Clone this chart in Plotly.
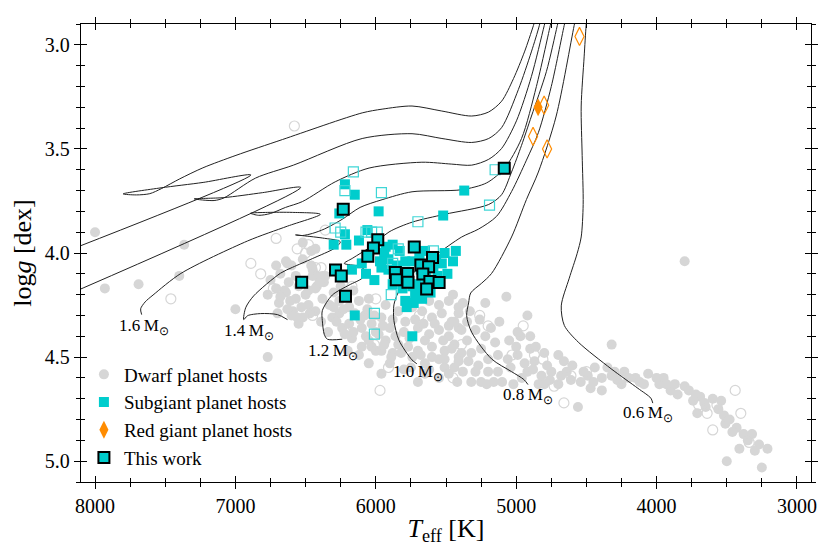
import plotly.graph_objects as go

# --- planet host stars: effective temperature [K] and log g [dex] ---
dwarf_teff = [
    8000, 7930, 7690, 7400, 7365, 7000, 6770, 6630, 6520, 6460,
    6420, 6430, 6520, 6460, 6450, 6380, 6370, 6420, 6480, 6650,
    6640, 6710, 6640, 6570, 6500, 6430, 6480, 6590, 6690, 6520,
    6430, 6380, 6400, 6360, 6450, 6570, 6620, 6710, 6600, 6770,
    6680, 6550, 6700,
    6260, 6190, 6120, 6050, 6260, 6190, 6100, 6030, 5960, 5980,
    5930, 6070, 6240, 6310, 5930, 5840, 5790, 5700, 5620, 5550,
    5480, 5410, 5460, 5530, 5600, 5670, 5740, 5550, 5480, 5410,
    5620, 5840, 5770, 5700, 5600, 5510, 5440, 5410, 5550, 5650,
    5740, 5510, 5440, 5880, 6030, 6170, 6340,
    5650, 5800, 5900, 6000, 6080, 6150, 6300, 6200, 6100, 5960,
    6120, 5800, 5900, 5650, 6300, 6250, 6160,
    5480, 5440, 5390, 5410, 5220, 5070, 4920, 4970, 5290, 5220,
    5150, 5250, 5320, 5390, 5460, 5510, 5410, 5340, 5270, 5200,
    5130, 5060, 4990, 4940, 4870, 5040, 5130, 5200, 5290, 5100,
    4920, 4820, 4750, 4700, 4660, 4680, 4610, 4540, 4490, 4440,
    4390, 4320, 4300, 4230, 4390, 4560, 4840, 4800, 5210, 4320,
    4090, 3980, 3900, 3800, 3850, 3720, 3600, 3710, 3520, 3510,
    3430, 3380, 3320, 3410, 3270, 3210, 3500, 3250, 3800, 3540,
    3690, 3650,
    5350, 5000, 4900, 4780, 4150, 4060, 3950, 4470, 4250,
    6280, 6220, 6160, 6110, 6060, 6010, 5950, 5880, 5860, 5940,
    6050, 6000, 5890, 5820, 5760, 6230, 6330, 6200, 6050, 5960,
    5720, 5660, 5580, 5520, 5600, 5680, 5750, 5700, 5620, 5550,
    5480, 5420, 5380, 5350, 5330, 5380, 5450,
    5260, 5180, 5120, 5050, 4990, 4900, 4860, 4800, 4880, 4960,
    5020, 5160, 5250, 5320, 4760, 4700, 4640, 4600, 4520, 4450,
    4350, 4280, 4200, 4120, 4000, 3930, 3870, 3770, 3740, 3660,
    3560, 3480, 3460, 3350, 3300,
    6750, 6680, 6600, 6550, 6610, 6530, 6470, 6390, 6630, 6560]
dwarf_logg = [
    3.90, 4.17, 4.15, 4.11, 3.96, 4.27, 4.50, 4.05, 3.95, 3.99,
    4.11, 3.98, 4.03, 4.06, 4.11, 4.11, 4.14, 4.16, 4.18, 4.18,
    4.04, 4.17, 4.19, 4.22, 4.20, 4.17, 4.25, 4.28, 4.24, 4.31,
    4.28, 4.22, 4.14, 4.11, 4.08, 4.11, 4.14, 4.06, 4.30, 4.20,
    4.21, 4.34, 4.29,
    4.23, 4.26, 4.23, 4.22, 4.29, 4.34, 4.36, 4.34, 4.31, 4.39,
    4.42, 4.40, 4.36, 4.31, 4.25, 4.28, 4.33, 4.36, 4.39, 4.37,
    4.40, 4.36, 4.33, 4.29, 4.31, 4.28, 4.26, 4.25, 4.23, 4.26,
    4.23, 4.44, 4.45, 4.47, 4.45, 4.47, 4.44, 4.50, 4.51, 4.53,
    4.50, 4.55, 4.55, 4.48, 4.45, 4.41, 4.38,
    4.42, 4.38, 4.36, 4.38, 4.30, 4.29, 4.26, 4.19, 4.45, 4.47,
    4.49, 4.56, 4.53, 4.58, 4.19, 4.16, 4.18,
    4.35, 4.33, 4.37, 4.29, 4.24, 4.21, 4.30, 4.40, 4.37, 4.40,
    4.43, 4.46, 4.48, 4.48, 4.46, 4.51, 4.52, 4.52, 4.54, 4.51,
    4.49, 4.51, 4.49, 4.53, 4.52, 4.55, 4.57, 4.57, 4.57, 4.62,
    4.57, 4.59, 4.57, 4.49, 4.52, 4.59, 4.61, 4.62, 4.59, 4.55,
    4.60, 4.59, 4.57, 4.57, 4.66, 4.74, 4.63, 4.63, 4.63, 4.44,
    4.63, 4.63, 4.66, 4.64, 4.68, 4.68, 4.70, 4.77, 4.78, 4.82,
    4.84, 4.87, 4.87, 4.94, 4.92, 4.94, 5.00, 5.03, 4.04, 4.71,
    4.69, 4.74,
    4.42, 4.45, 4.46, 4.54, 4.60, 4.58, 4.60, 4.65, 4.63,
    4.33, 4.39, 4.38, 4.32, 4.27, 4.30, 4.35, 4.32, 4.40, 4.44,
    4.42, 4.47, 4.50, 4.48, 4.41, 4.27, 4.25, 4.47, 4.53, 4.58,
    4.32, 4.34, 4.34, 4.42, 4.50, 4.49, 4.55, 4.62, 4.56, 4.60,
    4.58, 4.62, 4.57, 4.33, 4.28, 4.24, 4.20,
    4.32, 4.36, 4.33, 4.42, 4.38, 4.40, 4.45, 4.48, 4.56, 4.60,
    4.63, 4.62, 4.62, 4.62, 4.61, 4.63, 4.57, 4.54, 4.57, 4.62,
    4.55, 4.61, 4.60, 4.62, 4.60, 4.63, 4.63, 4.66, 4.71, 4.72,
    4.75, 4.80, 4.86, 4.90, 4.95,
    4.13, 4.10, 4.06, 4.16, 4.23, 4.26, 4.29, 4.33, 4.27, 4.31]

dwarf_open_teff = [
    6580, 7460, 6890, 6820, 6730, 6560, 6360, 6430, 6480, 6390,
    5970, 5450, 5260, 5200, 5030, 4810, 4610, 4500, 4660, 4730,
    5390, 4250, 3440, 3400, 3600, 3340, 3640, 3700, 3570, 6710,
    6500, 6170, 6000, 6450, 5690, 5910, 6220, 4950, 4870, 6010]
dwarf_open_logg = [
    3.39, 4.22, 4.05, 4.10, 4.17, 3.98, 3.89, 4.07, 3.96, 4.07,
    4.66, 4.60, 4.30, 4.35, 4.49, 4.51, 4.59, 4.57, 4.72, 4.64,
    4.44, 4.60, 4.66, 4.77, 4.85, 4.91, 4.77, 4.73, 4.73, 3.93,
    4.00, 4.16, 4.22, 4.30, 4.30, 4.55, 4.38, 4.35, 4.49, 4.44]

sub_teff = [
    6220, 6150, 5980, 6260, 5520, 5370, 6220, 6300, 6120, 5930,
    5940, 5690, 5430, 5450, 5650, 6100, 6010, 6150, 5740, 5790,
    5730, 5960, 5970, 5790, 5740, 5690, 5690, 5720, 5910, 5850,
    5590, 5530, 5560, 5710, 5810, 5880, 5490, 5680, 5610, 5810,
    5910, 5830, 5570, 5510, 5640, 5740, 5670, 5780, 6070, 6170,
    6210, 5880, 6060]
sub_logg = [
    3.67, 3.72, 3.80, 3.81, 3.82, 3.70, 3.91, 3.96, 3.94, 3.97,
    4.00, 4.04, 3.99, 4.04, 3.99, 4.05, 4.13, 4.30, 4.40, 4.23,
    4.24, 4.07, 4.04, 4.04, 4.04, 4.01, 4.18, 4.20, 4.03, 4.06,
    4.07, 4.05, 4.11, 4.15, 4.17, 4.15, 4.10, 4.08, 4.19, 4.09,
    4.08, 3.99, 4.03, 4.00, 4.12, 4.16, 4.22, 4.26, 4.10, 4.08,
    3.96, 3.96, 3.89]

sub_open_teff = [6160, 6220, 5960, 6290, 6250, 6070, 6030, 5990, 5840,
                 5700, 5150, 5190, 5590, 5880, 6010, 5890, 5810, 6010]
sub_open_logg = [3.61, 3.70, 3.71, 3.88, 3.90, 3.90, 3.90, 3.90, 3.98,
                 3.85, 3.60, 3.77, 3.99, 4.05, 4.29, 4.20, 4.13, 4.39]

rg_teff = [4844]
rg_logg = [3.30]
rg_open_teff = [4549, 4801, 4880, 4780]
rg_open_logg = [2.96, 3.29, 3.44, 3.50]

this_teff = [6232, 5986, 6017, 6057, 5726, 5596, 5679, 5624, 5861, 5854, 5773,
             5771, 5665, 5615, 5549, 5638, 6528, 6287, 6246, 6216, 5085]
this_logg = [3.790, 3.936, 3.976, 4.016, 3.971, 4.022, 4.058, 4.066, 4.094, 4.129, 4.098,
             4.140, 4.101, 4.137, 4.142, 4.173, 4.140, 4.082, 4.110, 4.208, 3.593]

# --- evolutionary tracks ---
trk20_teff = [8300, 6890, 7230, 7530, 7800, 7705, 7610, 7528, 7397, 7232, 6996, 6665,
              6097, 5955, 5742, 5530, 5317, 5197, 5104, 5019, 4941, 4877, 4849]
trk20_logg = [4.017, 3.625, 3.661, 3.687, 3.716, 3.721, 3.715, 3.691, 3.644, 3.591, 3.531, 3.455,
              3.327, 3.309, 3.294, 3.318, 3.342, 3.323, 3.271, 3.162, 3.034, 2.907, 2.845]
trk18_teff = [8300, 6535, 6806, 7083, 7294, 7152, 7081, 6856, 6587, 6097, 5742, 5529,
              5317, 5196, 5104, 4984, 4892, 4835, 4814]
trk18_logg = [4.231, 3.685, 3.710, 3.734, 3.740, 3.748, 3.735, 3.640, 3.578, 3.450, 3.427, 3.450,
              3.469, 3.450, 3.398, 3.214, 3.034, 2.907, 2.845]
trk16_teff = [7668, 7675, 7643, 7587, 7388, 6913, 6629, 6395, 6594, 6771, 6892, 6835, 6749,
              6643, 6523, 6289, 6048, 5672, 5459, 5317, 5196, 5104, 4998, 4892, 4800, 4778]
trk16_logg = [4.296, 4.268, 4.235, 4.202, 4.098, 3.942, 3.871, 3.814, 3.805, 3.805, 3.809, 3.819, 3.810,
              3.781, 3.753, 3.658, 3.592, 3.564, 3.573, 3.578, 3.550, 3.498, 3.365, 3.153, 2.907, 2.845]
trk14_teff = [6629, 6700, 6820, 6913, 6941, 6927, 6870, 6679, 6594, 6452, 6289, 6253, 6381, 6572,
              6522, 6452, 6367, 6239, 6112, 5955, 5742, 5388, 5210, 5082, 4962, 4856, 4757, 4736]
trk14_logg = [4.320, 4.296, 4.291, 4.301, 4.320, 4.263, 4.206, 4.097, 4.069, 4.027, 3.975, 3.946, 3.928, 3.913,
              3.916, 3.906, 3.885, 3.838, 3.781, 3.744, 3.706, 3.696, 3.663, 3.592, 3.450, 3.200, 2.907, 2.845]
trk12_teff = [6239, 6345, 6367, 6381, 6381, 6310, 6190, 6097, 6069, 6119, 6225, 6168,
              6026, 5906, 5742, 5509, 5196, 5104, 5033, 4962, 4891, 4785, 4707, 4686]
trk12_logg = [4.414, 4.414, 4.391, 4.325, 4.277, 4.202, 4.154, 4.121, 4.088, 4.064, 4.050, 4.026,
              3.965, 3.899, 3.852, 3.814, 3.767, 3.720, 3.611, 3.483, 3.342, 3.129, 2.907, 2.845]
trk10_teff = [5708, 5743, 5835, 5871, 5871, 5842, 5793, 5693, 5580, 5388, 5268, 5140,
              5033, 4927, 4842, 4750, 4658, 4637]
trk10_logg = [4.532, 4.513, 4.419, 4.325, 4.249, 4.192, 4.145, 4.069, 4.013, 3.923, 3.885, 3.824,
              3.705, 3.554, 3.422, 3.200, 2.907, 2.845]
trk08_teff = [4916, 4945, 5033, 5175, 5317, 5353, 5339, 5324, 5246, 5175, 5033, 4927,
              4842, 4715, 4587, 4567]
trk08_logg = [4.632, 4.608, 4.570, 4.509, 4.381, 4.301, 4.240, 4.192, 4.145, 4.098, 3.923, 3.743,
              3.611, 3.342, 2.907, 2.845]
trk06_teff = [4027, 4041, 4133, 4324, 4558, 4657, 4679, 4622, 4566, 4537, 4523, 4530,
              4537, 4516, 4502, 4495]
trk06_logg = [4.721, 4.697, 4.650, 4.556, 4.428, 4.348, 4.254, 4.121, 4.003, 3.923, 3.767, 3.531,
              3.294, 3.058, 2.907, 2.845]

mass_labels = ["1.6", "1.4", "1.2", "1.0", "0.8", "0.6"]
label_teff = [7650, 6905, 6303, 5700, 4913, 4061]
label_logg = [4.357, 4.381, 4.476, 4.578, 4.688, 4.773]

FONT = "Liberation Serif, Times New Roman, serif"
GRAY = "#d6d6d6"
CYAN = "#00cdcd"
CYAN_OPEN = "#3fd6d6"
ORANGE = "#ff8c00"

fig = go.Figure()

fig.add_trace(go.Scatter(x=dwarf_teff, y=dwarf_logg, mode="markers", name="Dwarf planet hosts",
                         marker=dict(symbol="circle", size=10, color=GRAY)))
fig.add_trace(go.Scatter(x=dwarf_open_teff, y=dwarf_open_logg, mode="markers", showlegend=False,
                         marker=dict(symbol="circle-open", size=10, color=GRAY, line=dict(width=1.2))))

tracks = [(trk20_teff, trk20_logg), (trk18_teff, trk18_logg), (trk16_teff, trk16_logg),
          (trk14_teff, trk14_logg), (trk12_teff, trk12_logg), (trk10_teff, trk10_logg),
          (trk08_teff, trk08_logg), (trk06_teff, trk06_logg)]
for tx, ty in tracks:
    fig.add_trace(go.Scatter(x=tx, y=ty, mode="lines", showlegend=False, hoverinfo="skip",
                             line=dict(color="#222222", width=1, shape="spline", smoothing=0.8)))

fig.add_trace(go.Scatter(x=sub_teff, y=sub_logg, mode="markers", name="Subgiant planet hosts",
                         marker=dict(symbol="square", size=10, color=CYAN)))
fig.add_trace(go.Scatter(x=sub_open_teff, y=sub_open_logg, mode="markers", showlegend=False,
                         marker=dict(symbol="square-open", size=10, color=CYAN_OPEN, line=dict(width=1.2))))
fig.add_trace(go.Scatter(x=rg_teff, y=rg_logg, mode="markers", name="Red giant planet hosts",
                         marker=dict(symbol="diamond-tall", size=13, color=ORANGE)))
fig.add_trace(go.Scatter(x=rg_open_teff, y=rg_open_logg, mode="markers", showlegend=False,
                         marker=dict(symbol="diamond-tall-open", size=13, color=ORANGE, line=dict(width=1.2))))
fig.add_trace(go.Scatter(x=this_teff, y=this_logg, mode="markers", name="This work",
                         marker=dict(symbol="square", size=11, color=CYAN,
                                     line=dict(color="black", width=2))))

# empty trace on the overlaid axes that carry the inward half of the ticks
fig.add_trace(go.Scatter(x=[None], y=[None], xaxis="x2", yaxis="y2", showlegend=False, hoverinfo="skip"))

for lab, tx, ty in zip(mass_labels, label_teff, label_logg):
    fig.add_annotation(x=tx, y=ty, text=lab + "\u2009M<sub>\u2299</sub>", showarrow=False,
                       font=dict(family=FONT, size=17, color="black"))

xr = [8100, 2900]
yr = [5.1, 2.9]
tickfont = dict(family=FONT, size=20, color="black")

# the page body adds an 8 px offset, so the figure is drawn 8 px smaller
fig.update_layout(
    width=822, height=546,
    margin=dict(l=70, r=19, t=9, b=72),
    paper_bgcolor="white", plot_bgcolor="white",
    font=dict(family=FONT, color="black"),
    showlegend=True,
    legend=dict(x=0.004, y=0.012, xanchor="left", yanchor="bottom", bgcolor="rgba(0,0,0,0)",
                font=dict(family=FONT, size=19, color="black"), tracegroupgap=0),
    xaxis=dict(range=xr, autorange=False, showgrid=False, zeroline=False, showline=True,
               linecolor="black", linewidth=1.3,
               mirror="ticks", ticks="outside", ticklen=6, tickwidth=1.2, tickcolor="black",
               dtick=1000, tick0=0, tickfont=tickfont,
               minor=dict(dtick=250, ticks="outside", ticklen=4, tickwidth=1, tickcolor="black"),
               title=dict(text="<i>T</i><sub>eff</sub> [K]", font=dict(family=FONT, size=26), standoff=2)),
    yaxis=dict(range=yr, autorange=False, showgrid=False, zeroline=False, showline=True,
               linecolor="black", linewidth=1.3,
               mirror="ticks", ticks="outside", ticklen=6, tickwidth=1.2, tickcolor="black",
               dtick=0.5, tick0=0, tickformat=".1f", tickfont=tickfont,
               minor=dict(dtick=0.1, ticks="outside", ticklen=4, tickwidth=1, tickcolor="black"),
               title=dict(text="log<i>g</i> [dex]", font=dict(family=FONT, size=26), standoff=10)),
    xaxis2=dict(range=xr, autorange=False, overlaying="x", anchor="y", side="bottom",
                showgrid=False, zeroline=False, showline=False, mirror="ticks",
                ticks="inside", ticklen=6, tickwidth=1.2, tickcolor="black",
                dtick=1000, tick0=0, showticklabels=False,
                minor=dict(dtick=250, ticks="inside", ticklen=4, tickwidth=1, tickcolor="black")),
    yaxis2=dict(range=yr, autorange=False, overlaying="y", anchor="x", side="left",
                showgrid=False, zeroline=False, showline=False, mirror="ticks",
                ticks="inside", ticklen=6, tickwidth=1.2, tickcolor="black",
                dtick=0.5, tick0=0, showticklabels=False,
                minor=dict(dtick=0.1, ticks="inside", ticklen=4, tickwidth=1, tickcolor="black")),
)

fig.write_html("out.html")
